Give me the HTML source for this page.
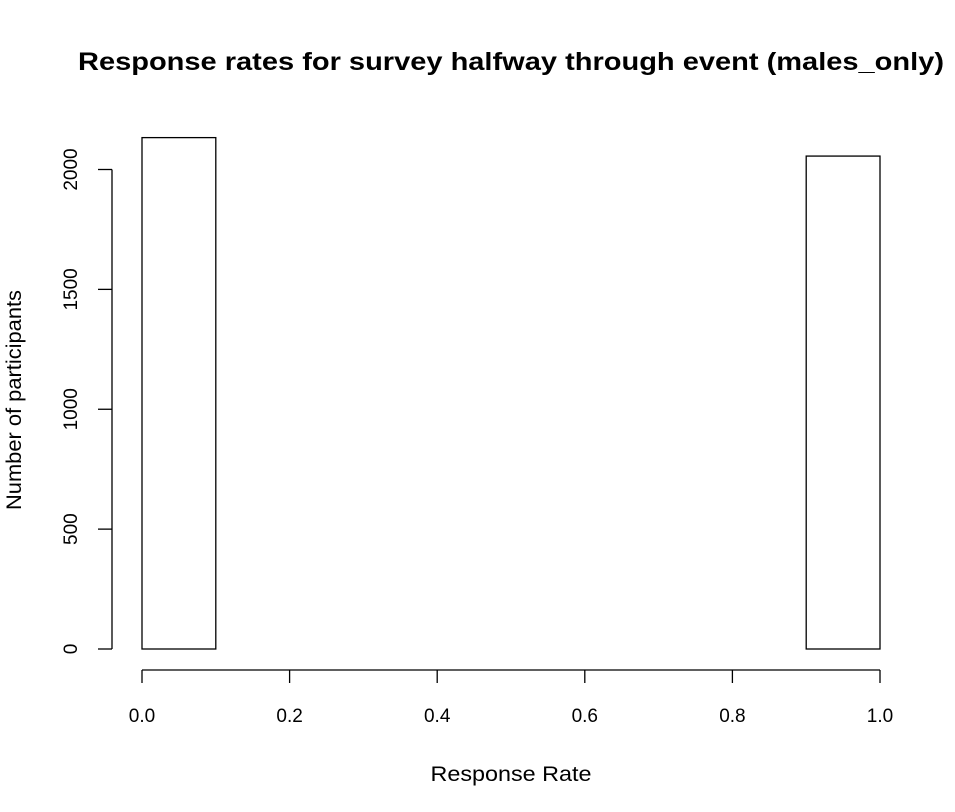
<!DOCTYPE html>
<html><head><meta charset="utf-8"><style>
body{margin:0;background:#fff;}
svg text{font-family:"Liberation Sans",Arial,sans-serif;fill:#000;}
</style></head><body>
<svg id="chart" width="955" height="807" xmlns="http://www.w3.org/2000/svg">
<text x="511" y="70" text-anchor="middle" font-size="25" font-weight="bold" textLength="866" lengthAdjust="spacingAndGlyphs">Response rates for survey halfway through event (males_only)</text>
<text x="511" y="781" text-anchor="middle" font-size="21" textLength="161" lengthAdjust="spacingAndGlyphs">Response Rate</text>
<text transform="translate(21,400) rotate(-90)" text-anchor="middle" font-size="21" textLength="220" lengthAdjust="spacingAndGlyphs">Number of participants</text>
<g id="bars"></g><g id="axes"></g>
</svg>
<script>
const binStarts=[0,0.1,0.2,0.3,0.4,0.5,0.6,0.7,0.8,0.9];
const counts=[2133,0,0,0,0,0,0,0,0,2056];
const xTicks=[0,0.2,0.4,0.6,0.8,1.0];
const xTickLabels=["0.0","0.2","0.4","0.6","0.8","1.0"];
const yTicks=[0,500,1000,1500,2000];
const yTickLabels=["0","500","1000","1500","2000"];
const binWidth=0.1;
const NS="http://www.w3.org/2000/svg";
function xs(v){return 142+v*738;}
function ys(v){return 649-v*0.23975;}
function mk(t,a,p){const e=document.createElementNS(NS,t);for(const k in a)e.setAttribute(k,a[k]);p.appendChild(e);return e;}
const bars=document.getElementById('bars'),axes=document.getElementById('axes');
binStarts.forEach((b,i)=>{
 const x0=xs(b),x1=xs(b+binWidth),y=ys(counts[i]);
 const r=mk('rect',{x:x0,y:y,width:x1-x0,height:ys(0)-y,fill:'none',stroke:'#000','stroke-width':1.3},bars);
 
 
});
const xa=mk('path',{d:`M${xs(xTicks[0])},670H${xs(xTicks[xTicks.length-1])}`,stroke:'#000','stroke-width':1.3,fill:'none'},axes);


xTicks.forEach((t,i)=>{
 mk('line',{x1:xs(t),x2:xs(t),y1:670,y2:683,stroke:'#000','stroke-width':1.3},axes);
 const tx=mk('text',{x:xs(t),y:722,'text-anchor':'middle','font-size':19},axes);
 tx.textContent=xTickLabels[i];
 
 
});
const ya=mk('path',{d:`M112,${ys(yTicks[0])}V${ys(yTicks[yTicks.length-1])}`,stroke:'#000','stroke-width':1.3,fill:'none'},axes);


yTicks.forEach((t,i)=>{
 const y=ys(t);
 mk('line',{x1:98,x2:112,y1:y,y2:y,stroke:'#000','stroke-width':1.3},axes);
 const tx=mk('text',{transform:`translate(77,${y}) rotate(-90)`,'text-anchor':'middle','font-size':19},axes);
 tx.textContent=yTickLabels[i];
 
 
});
</script>
</body></html>
